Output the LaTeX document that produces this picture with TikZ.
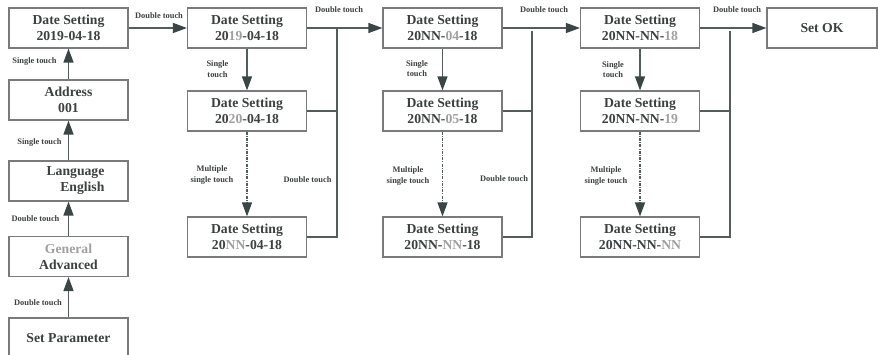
\documentclass[tikz,border=0pt]{standalone}
\usepackage{fontspec}
\setmainfont{Liberation Serif}[BoldFont={Liberation Serif Bold}]
\newfontfamily\serb{Liberation Serif Bold}
\usetikzlibrary{arrows.meta}
\definecolor{txt}{HTML}{3C4040}
\definecolor{lt}{HTML}{A0A0A0}
\definecolor{boxc}{HTML}{7A7A7A}
\definecolor{linec}{HTML}{555C5C}
\definecolor{headc}{HTML}{3B4545}
\newcommand{\lgt}[1]{\textcolor{lt}{#1}}
\tikzset{
  box/.style={draw=boxc, line width=1.2pt, minimum width=119pt, minimum height=40pt,
    inner sep=0pt, align=center, text=txt,
    font=\serb\fontsize{13.7}{16}\selectfont},
  lbl/.style={text=txt, align=center, inner sep=0pt,
    font=\serb\fontsize{8.4}{10.5}\selectfont},
  conn/.style={draw=linec, line width=1.3pt},
  arr/.style={conn, -{Triangle[length=14pt,width=10pt,fill=headc,color=headc]}},
  dd/.style={arr, dash pattern=on 3pt off 1.2pt on 1pt off 1.2pt}
}
\begin{document}
\begin{tikzpicture}[x=1pt,y=-1pt]
\useasboundingbox (0,0) rectangle (878,355);
% left column
\node[box] (a) at (68.5,28) {Date Setting\\2019-04-18};
\node[box] (addr) at (68.5,100) {Address\\001};
\node[box, align=right] (lang) at (68.5,181) {\hspace*{14pt}Language\\English};
\node[box] (gen) at (68.5,256.5) {\lgt{General}\\Advanced};
\node[box] (sp) at (68.5,338) {Set Parameter};
% column 2
\node[box] (b1) at (247,28) {Date Setting\\20\lgt{19}-04-18};
\node[box] (b2) at (247,111) {Date Setting\\20\lgt{20}-04-18};
\node[box] (b3) at (247,237) {Date Setting\\20\lgt{NN}-04-18};
% column 3
\node[box] (c1) at (442.5,28) {Date Setting\\20NN-\lgt{04}-18};
\node[box] (c2) at (442.5,111) {Date Setting\\20NN-\lgt{05}-18};
\node[box] (c3) at (442.5,237) {Date Setting\\20NN-\lgt{NN}-18};
% column 4
\node[box] (d1) at (640,28) {Date Setting\\20NN-NN-\lgt{18}};
\node[box] (d2) at (640,111) {Date Setting\\20NN-NN-\lgt{19}};
\node[box] (d3) at (640,237) {Date Setting\\20NN-NN-\lgt{NN}};
\node[box, minimum width=110pt] (ok) at (822,28) {Set OK};
% junction coordinates
\coordinate (j2) at (337,28);
\coordinate (j3) at (532,31);
\coordinate (j4) at (730,31);
% left column arrows
\draw[arr] (sp.north) -- (gen.south);
\draw[arr] (gen.north) -- (lang.south);
\draw[arr] (lang.north) -- (addr.south);
\draw[arr] (addr.north) -- (a.south);
\draw[arr] (a.east) -- (b1.west);
% column 2
\draw[arr] (b1.south) -- (b2.north);
\draw[dd] (b2.south) -- (b3.north);
\draw[arr] (b1.east) -- (c1.west);
\draw[conn] (b3.east) -| (j2);
\draw[conn] (b2.east) -- (b2.east -| j2);
% column 3
\draw[arr] (c1.south) -- (c2.north);
\draw[dd] (c2.south) -- (c3.north);
\draw[arr] (c1.east) -- (d1.west);
\draw[conn] (c3.east) -| (j3);
\draw[conn] (c2.east) -- (c2.east -| j3);
% column 4
\draw[arr] (d1.south) -- (d2.north);
\draw[dd] (d2.south) -- (d3.north);
\draw[arr] (d1.east) -- (ok.west);
\draw[conn] (d3.east) -| (j4);
\draw[conn] (d2.east) -- (d2.east -| j4);
% labels
\node[lbl] (l1) at (34.5,62) {Single touch};
\node[lbl] (l2) at (39.5,143) {Single touch};
\node[lbl] (l3) at (35.5,219) {Double touch};
\node[lbl] (l4) at (38,303) {Double touch};
\node[lbl] (l5) at (159,16) {Double touch};
\node[lbl] (l6) at (339,10) {Double touch};
\node[lbl] (l7) at (544,10) {Double touch};
\node[lbl] (l8) at (737,10) {Double touch};
\node[lbl] (l9) at (217.5,69) {Single\\touch};
\node[lbl] (l10) at (417,68.5) {Single\\touch};
\node[lbl] (l11) at (613,69.5) {Single\\touch};
\node[lbl] (l12) at (212,175) {Multiple\\single touch};
\node[lbl] (l13) at (408,176) {Multiple\\single touch};
\node[lbl] (l14) at (606,176) {Multiple\\single touch};
\node[lbl] (l15) at (307.5,180) {Double touch};
\node[lbl] (l16) at (504,179) {Double touch};
\end{tikzpicture}
\end{document}
